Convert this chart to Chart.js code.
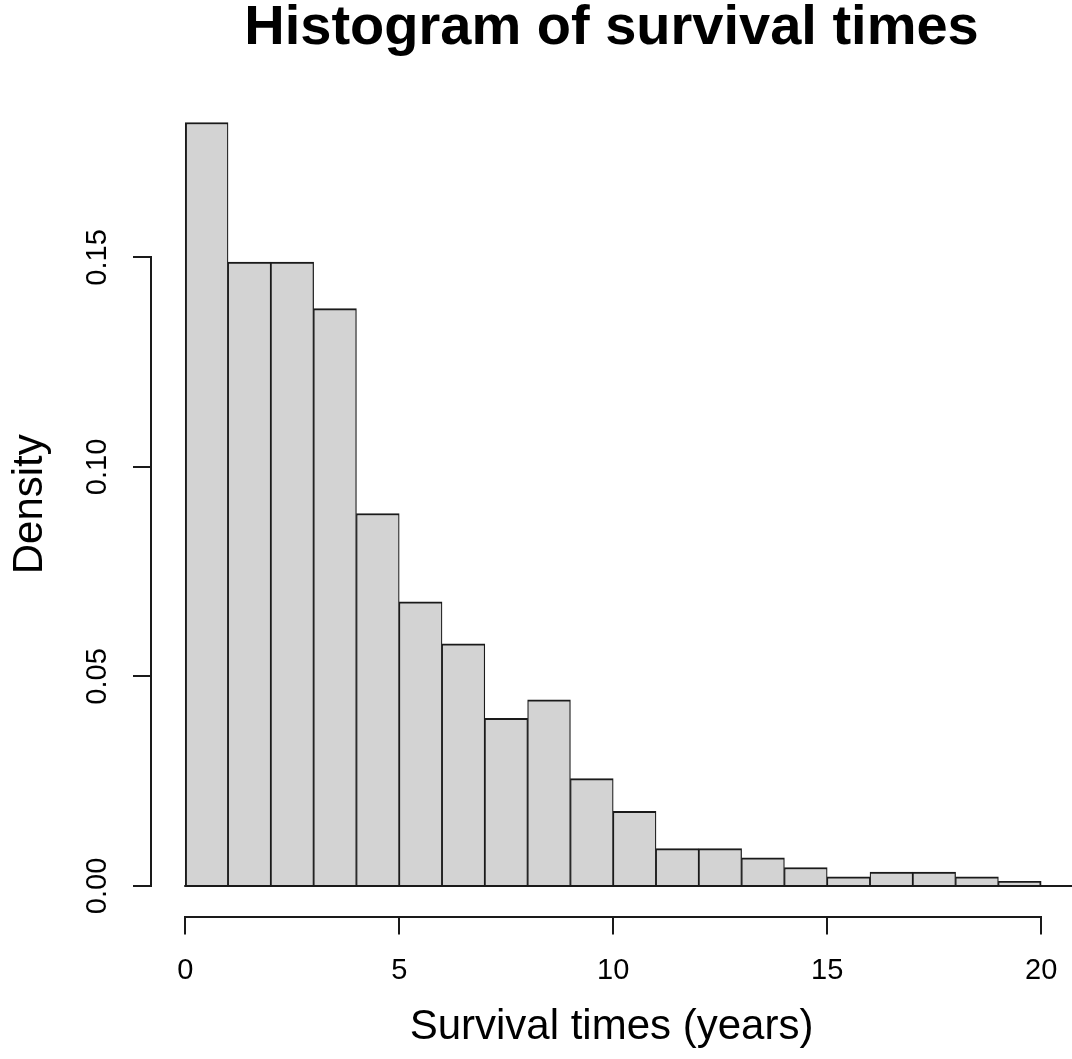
<!DOCTYPE html>
<html>
<head>
<meta charset="utf-8">
<title>Histogram of survival times</title>
<script src="https://cdn.jsdelivr.net/npm/chart.js@4.4.1/dist/chart.umd.min.js"></script>
<style>
  html, body { margin: 0; padding: 0; background: #fff; overflow: hidden; }
  canvas { display: block; }
</style>
</head>
<body>
<canvas id="hist" width="1072" height="1059"></canvas>
<script>
// histogram bins (years) and the density of each bin
const binEdges = [0, 1, 2, 3, 4, 5, 6, 7, 8, 9, 10, 11, 12, 13, 14, 15, 16, 17, 18, 19, 20];
const density = [0.1822, 0.1489, 0.1489, 0.1378, 0.0889, 0.0678, 0.0578, 0.0400, 0.0444, 0.0256,
                 0.0178, 0.0089, 0.0089, 0.0067, 0.0044, 0.0022, 0.0033, 0.0033, 0.0022, 0.0011];
const xTicks = [0, 5, 10, 15, 20];
const yTicks = [0, 0.05, 0.10, 0.15];

const INK = '#1a1a1a';
const BAR_FILL = '#d3d3d3';

Chart.defaults.font.family = "'Liberation Sans', Arial, sans-serif";
Chart.defaults.color = '#000';

// plot region runs 4% past the data range, like base R graphics
const yTop = Math.max(...density);
const yPad = 0.04 * yTop;
const xPad = 0.04 * (binEdges[binEdges.length - 1] - binEdges[0]);

const bars = density.map((d, i) => ({ x: (binEdges[i] + binEdges[i + 1]) / 2, y: d }));

// axis lines only span first..last tick, plus the zero line under the bars
const rAxes = {
    id: 'rAxes',
    afterDatasetsDraw(chart) {
        const { ctx, chartArea, scales: { x, y } } = chart;
        const y0 = Math.round(y.getPixelForValue(0));
        const xb = Math.round(chartArea.bottom);
        const yl = Math.round(chartArea.left);
        ctx.save();
        ctx.strokeStyle = INK;
        ctx.lineWidth = 2;
        ctx.beginPath();
        ctx.moveTo(x.getPixelForValue(binEdges[0]) - 1, y0);
        ctx.lineTo(chartArea.right, y0);
        ctx.moveTo(Math.round(x.getPixelForValue(xTicks[0])) - 1, xb);
        ctx.lineTo(Math.round(x.getPixelForValue(xTicks[xTicks.length - 1])) + 1, xb);
        ctx.moveTo(yl, Math.round(y.getPixelForValue(yTicks[0])) + 1);
        ctx.lineTo(yl, Math.round(y.getPixelForValue(yTicks[yTicks.length - 1])) - 1);
        ctx.stroke();
        ctx.restore();
    }
};

const hist = new Chart(document.querySelector('#hist'), {
    type: 'bar',
    data: {
        datasets: [{
            data: bars,
            backgroundColor: BAR_FILL,
            borderColor: INK,
            borderSkipped: false,
            // neighbouring bars share an edge, so each side carries half of it
            borderWidth: (c) => ({
                top: 2,
                bottom: 0,
                left: c.dataIndex === 0 ? 2 : 1.25,
                right: c.dataIndex === density.length - 1 ? 2 : 1.25,
            }),
            barPercentage: 1,
            categoryPercentage: 1,
        }]
    },
    plugins: [rAxes],
    options: {
        responsive: false,
        animation: false,
        events: [],
        layout: { padding: 0 },
        scales: {
            x: {
                type: 'linear',
                offset: false,
                min: binEdges[0] - xPad,
                max: 20.72,
                afterBuildTicks: (s) => { s.ticks = xTicks.map(v => ({ value: v })); },
                afterFit: (s) => { s.height = 142.5; s.paddingLeft = 0; s.paddingRight = 0; },
                border: { display: false },
                grid: { offset: false, drawOnChartArea: false, drawTicks: true, tickLength: 18, color: INK, lineWidth: 2 },
                ticks: {
                    autoSkip: false,
                    maxRotation: 0,
                    padding: 19,
                    font: { size: 29 },
                    callback: (v) => String(v),
                },
                title: {
                    display: true,
                    text: 'Survival times (years)',
                    font: { size: 42 },
                    padding: { top: 0, bottom: 6 },
                },
            },
            y: {
                min: -yPad,
                max: yTop + yPad,
                afterBuildTicks: (s) => { s.ticks = yTicks.map(v => ({ value: v })); },
                afterFit: (s) => { s.width = 151; s.paddingTop = 0; s.paddingBottom = 0; },
                border: { display: false },
                grid: { drawOnChartArea: false, drawTicks: true, tickLength: 18, color: INK, lineWidth: 2 },
                ticks: {
                    autoSkip: false,
                    minRotation: 90,
                    maxRotation: 90,
                    crossAlign: 'center',
                    padding: 7,
                    font: { size: 29 },
                    callback: (v) => v.toFixed(2),
                },
                title: {
                    display: true,
                    text: 'Density',
                    font: { size: 42 },
                    padding: { top: 5, bottom: 0 },
                },
            },
        },
        plugins: {
            legend: { display: false },
            tooltip: { enabled: false },
            title: {
                display: true,
                text: 'Histogram of survival times',
                fullSize: false,
                font: { size: 56, weight: 'bold', lineHeight: 1 },
                padding: { top: 1, bottom: 35 },
            },
        }
    }
});
</script>
</body>
</html>
